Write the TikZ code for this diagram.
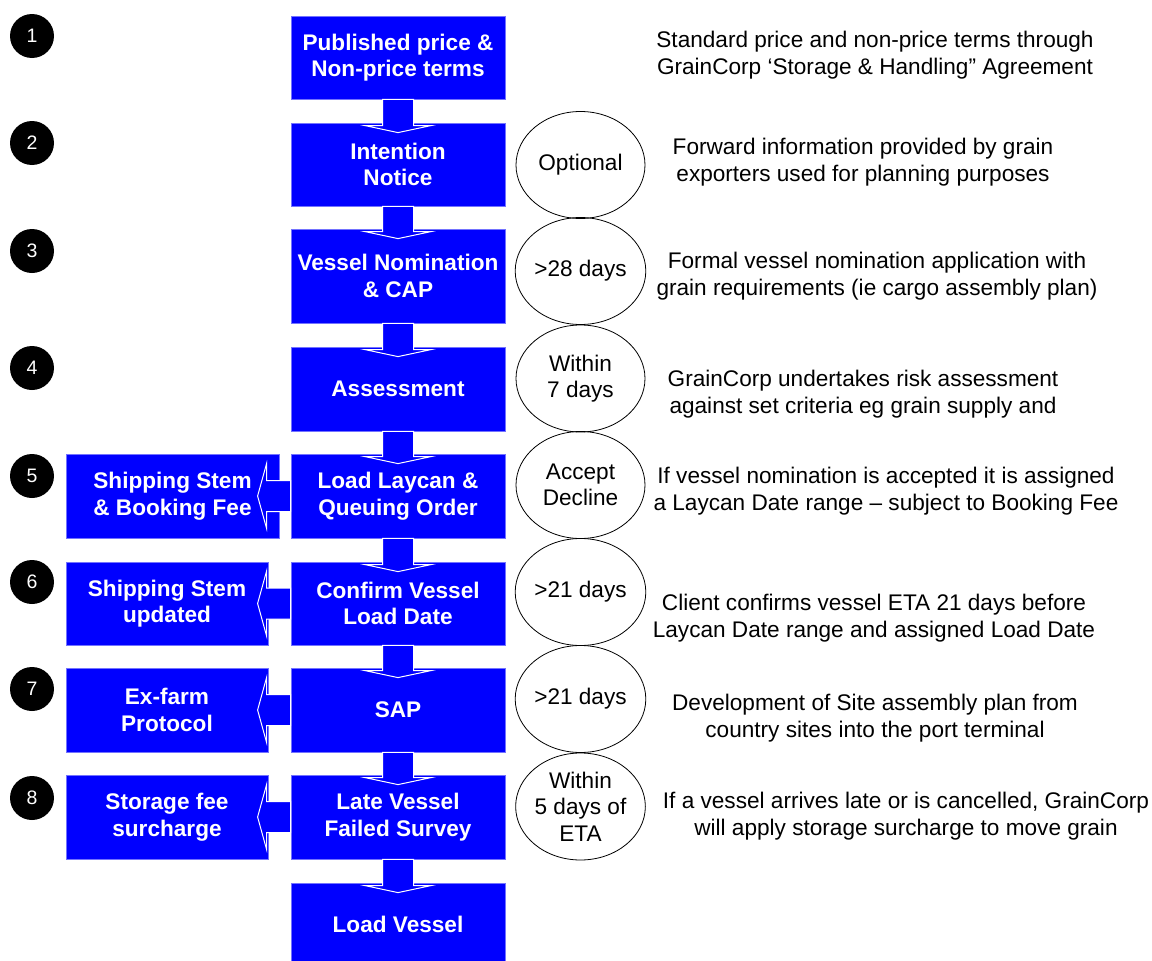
\documentclass[tikz,border=0pt]{standalone}
\usepackage{fontspec}
\setmainfont{Liberation Sans}
\usetikzlibrary{shapes.geometric,calc}
\definecolor{boxblue}{RGB}{0,0,255}
\newcommand\myDownArrow[2]{%
  \filldraw[flowarrow] ($(#1.south)+(-15.5,0)$) -- ($(#2.north)+(-15.5,3)$) -- ($(#2.north)+(-33,3)$)
    -- ($(#2.north)+(0,10)$) -- ($(#2.north)+(33,3)$) -- ($(#2.north)+(15.5,3)$)
    -- ($(#1.south)+(15.5,0)$) -- cycle;}
\newcommand\myLeftArrow[2]{%
  \filldraw[flowarrow] ($(#1.west)+(0,-15.5)$) -- ($(#1.west)+(-24,-15.5)$) -- ($(#1.west)+(-24,-32.5)$)
    -- ($(#1.west)+(-33,0)$) -- ($(#1.west)+(-24,32.5)$) -- ($(#1.west)+(-24,15.5)$)
    -- ($(#1.west)+(0,15.5)$) -- cycle;}
\begin{document}
\begin{tikzpicture}[x=1pt,y=-1pt,
  bluebox/.style={fill=boxblue, draw=boxblue!55!white, line width=0.8pt, minimum height=84pt,
    inner sep=0pt, align=center, text=white, font=\fontsize{22.6}{26.5}\selectfont\bfseries},
  mainbox/.style={bluebox, minimum width=214pt},
  sidebox/.style={bluebox, minimum width=202pt},
  flowarrow/.style={fill=boxblue, draw=white, line width=1pt, line join=miter},
  numcirc/.style={circle, fill=black, minimum size=44pt, inner sep=0pt, text=white,
    font=\fontsize{19.5}{23}\selectfont},
  timeell/.style={ellipse, draw=black, line width=0.8pt, minimum width=129pt, minimum height=107pt,
    inner sep=0pt, align=center, font=\fontsize{22.6}{26.5}\selectfont},
  desc/.style={align=center, inner sep=0pt, font=\fontsize{22.6}{26.5}\selectfont}
]
\useasboundingbox (0,0) rectangle (1152,961);
\clip (0,0) rectangle (1152,961);

% main column
\node[mainbox, minimum height=83pt] (b1) at (398,57.5) {Published price \&\\Non-price terms};
\node[mainbox, minimum height=83pt] (b2) at (398,164.5) {Intention\\Notice};
\node[mainbox, minimum height=94pt] (b3) at (398,276) {Vessel Nomination\\\& CAP};
\node[mainbox] (b4) at (398,389) {Assessment};
\node[mainbox] (b5) at (398,496) {Load Laycan \&\\Queuing Order};
\node[mainbox, minimum height=83pt] (b6) at (398,603.5) {Confirm Vessel\\Load Date};
\node[mainbox] (b7) at (398,710) {SAP};
\node[mainbox] (b8) at (398,817) {Late Vessel\\Failed Survey};
\node[mainbox, minimum height=83pt] (b9) at (398,924.5) {Load Vessel};

% side boxes
\node[sidebox, minimum width=213pt] (l5) at (172.5,496) {Shipping Stem\\\& Booking Fee};
\node[sidebox, minimum height=83pt] (l6) at (167,603.5) {Shipping Stem\\updated};
\node[sidebox] (l7) at (167,710) {Ex-farm\\Protocol};
\node[sidebox] (l8) at (167,817) {Storage fee\\surcharge};

% arrows
\myDownArrow{b1}{b2}
\myDownArrow{b2}{b3}
\myDownArrow{b3}{b4}
\myDownArrow{b4}{b5}
\myDownArrow{b5}{b6}
\myDownArrow{b6}{b7}
\myDownArrow{b7}{b8}
\myDownArrow{b8}{b9}
\myLeftArrow{b5}{l5}
\myLeftArrow{b6}{l6}
\myLeftArrow{b7}{l7}
\myLeftArrow{b8}{l8}

% step numbers
\node[numcirc] (n1) at (32,36) {1};
\node[numcirc] (n2) at (32,143) {2};
\node[numcirc] (n3) at (32,251) {3};
\node[numcirc] (n4) at (32,368) {4};
\node[numcirc] (n5) at (32,476) {5};
\node[numcirc] (n6) at (32,582) {6};
\node[numcirc] (n7) at (32,689) {7};
\node[numcirc] (n8) at (32,798) {8};

% timing ellipses
\node[timeell] (e2) at (580.5,165) {Optional};
\node[timeell] (e3) at (580.5,271) {>28 days};
\node[timeell] (e4) at (580.5,378.5) {Within\\7 days};
\node[timeell] (e5) at (580.5,485) {Accept\\Decline};
\node[timeell] (e6) at (580.5,592) {>21 days};
\node[timeell] (e7) at (580.5,699) {>21 days};
\node[timeell] (e8) at (580.5,806.5) {Within\\5 days of\\ETA};

% descriptions
\node[desc] (d1) at (875,55) {Standard price and non-price terms through\\GrainCorp ‘Storage \& Handling” Agreement};
\node[desc] (d2) at (863,162) {Forward information provided by grain\\exporters used for planning purposes};
\node[desc] (d3) at (877,276) {Formal vessel nomination application with\\grain requirements (ie cargo assembly plan)};
\node[desc] (d4) at (863,394) {GrainCorp undertakes risk assessment\\against set criteria eg grain supply and};
\node[desc] (d5) at (886,491) {If vessel nomination is accepted it is assigned\\a Laycan Date range -- subject to Booking Fee};
\node[desc] (d6) at (874,618) {Client confirms vessel ETA 21 days before\\Laycan Date range and assigned Load Date};
\node[desc] (d7) at (875,718) {Development of Site assembly plan from\\country sites into the port terminal};
\node[desc] (d8) at (906,816) {If a vessel arrives late or is cancelled, GrainCorp\\will apply storage surcharge to move grain};
\end{tikzpicture}
\end{document}
